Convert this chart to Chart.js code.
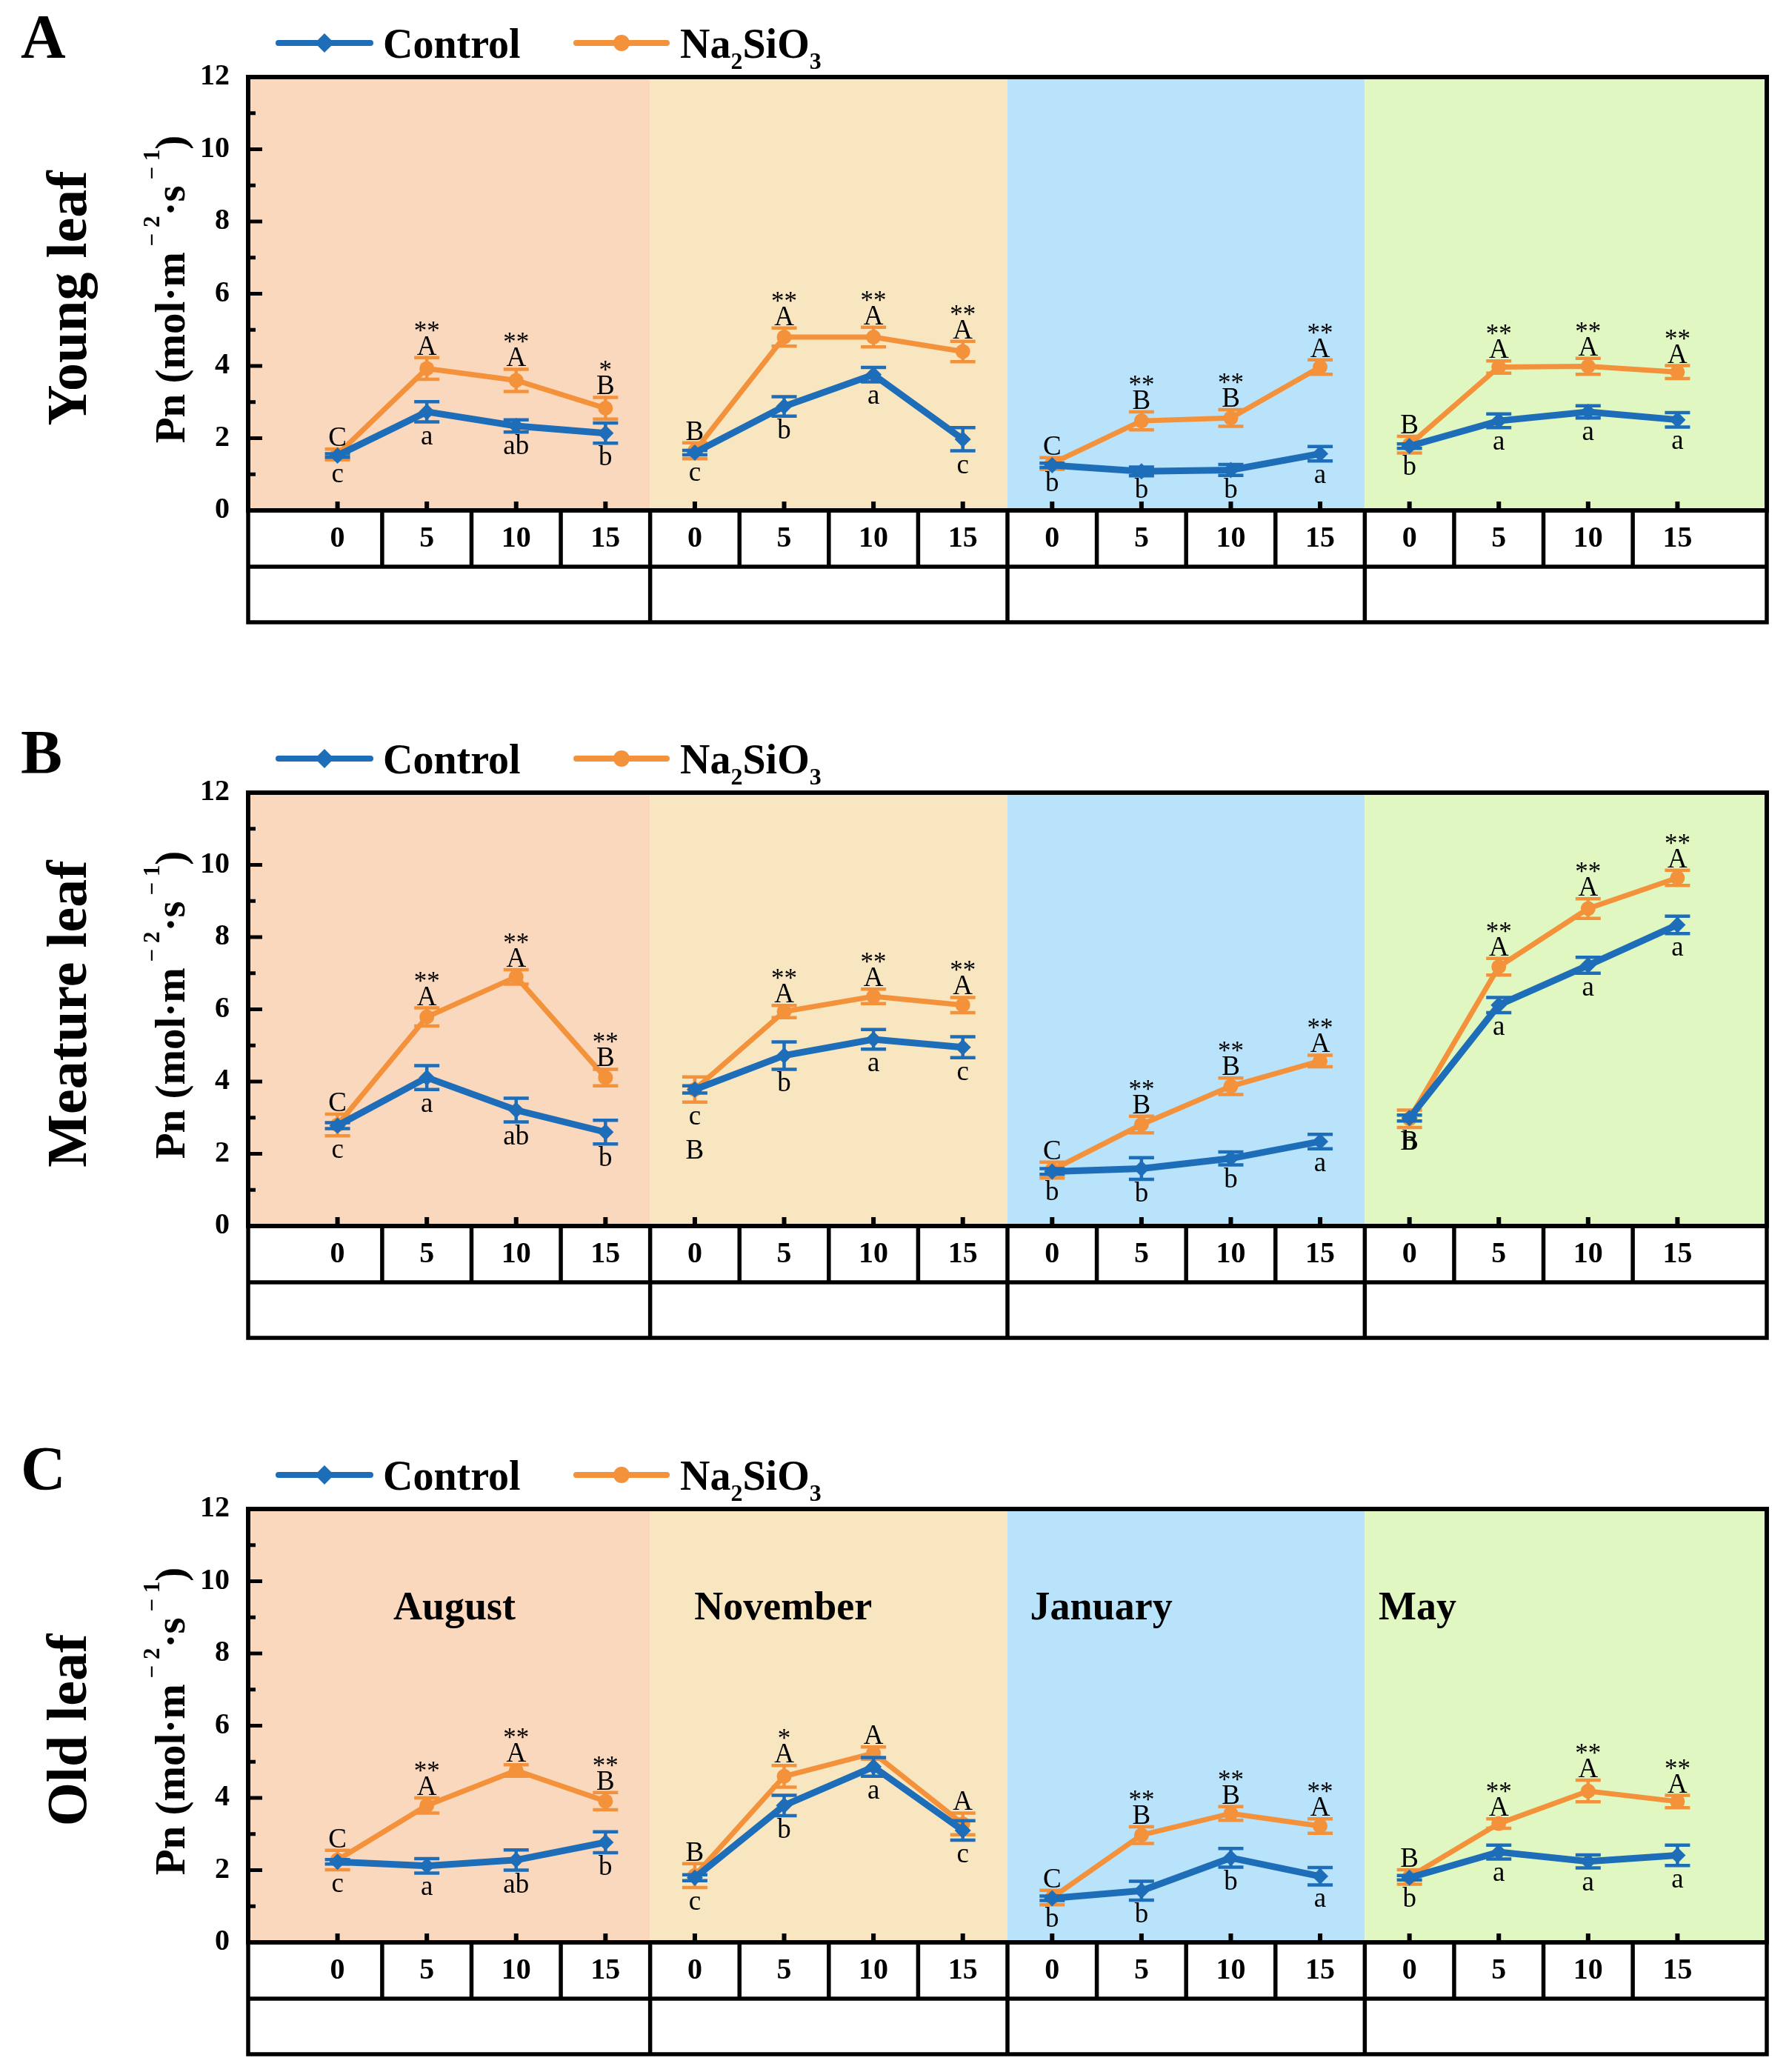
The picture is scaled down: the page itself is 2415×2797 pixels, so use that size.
<!DOCTYPE html>
<html>
<head>
<meta charset="utf-8">
<script src="https://cdn.jsdelivr.net/npm/chart.js@4.4.1/dist/chart.umd.min.js"></script>
<style>
  html, body { margin: 0; padding: 0; background: #fff; }
  body { width: 2415px; height: 2797px; position: relative; overflow: hidden; }
  canvas { position: absolute; left: 0; }
</style>
</head>
<body>
<canvas id="chartA" width="2415" height="900" style="top:0px"></canvas>
<canvas id="chartB" width="2415" height="900" style="top:966px"></canvas>
<canvas id="chartC" width="2415" height="900" style="top:1933px"></canvas>
<script>
// days after treatment, repeated in each month
var days = ['0', '5', '10', '15'];
var months = ['August', 'November', 'January', 'May'];

// A - young leaf
var ctrlYoung    = [1.52, 2.73, 2.34, 2.14, 1.60, 2.88, 3.76, 1.97, 1.25, 1.08, 1.12, 1.57, 1.78, 2.48, 2.73, 2.51];
var ctrlYoungErr = [0.05, 0.28, 0.17, 0.28, 0.06, 0.27, 0.20, 0.32, 0.06, 0.12, 0.15, 0.20, 0.06, 0.19, 0.17, 0.20];
var naYoung      = [1.55, 3.93, 3.60, 2.83, 1.65, 4.80, 4.80, 4.40, 1.30, 2.48, 2.56, 3.97, 1.82, 3.97, 3.99, 3.83];
var naYoungErr   = [0.15, 0.30, 0.31, 0.30, 0.22, 0.25, 0.27, 0.28, 0.16, 0.25, 0.23, 0.20, 0.23, 0.17, 0.22, 0.18];
var upYoung   = ['C', 'A', 'A', 'B', 'B', 'A', 'A', 'A', 'C', 'B', 'B', 'A', 'B', 'A', 'A', 'A'];
var starYoung = ['', '**', '**', '*', '', '**', '**', '**', '', '**', '**', '**', '', '**', '**', '**'];
var lowYoung  = ['c', 'a', 'ab', 'b', 'c', 'b', 'a', 'c', 'b', 'b', 'b', 'a', 'b', 'a', 'a', 'a'];

// B - meature leaf
var ctrlMeature    = [2.78, 4.11, 3.21, 2.60, 3.78, 4.72, 5.17, 4.95, 1.51, 1.59, 1.87, 2.34, 2.99, 6.12, 7.22, 8.34];
var ctrlMeatureErr = [0.08, 0.33, 0.33, 0.33, 0.10, 0.38, 0.27, 0.29, 0.08, 0.30, 0.18, 0.20, 0.08, 0.21, 0.22, 0.24];
var naMeature      = [2.80, 5.79, 6.90, 4.11, 3.78, 5.94, 6.36, 6.12, 1.55, 2.81, 3.87, 4.57, 2.97, 7.18, 8.79, 9.64];
var naMeatureErr   = [0.30, 0.25, 0.20, 0.23, 0.35, 0.17, 0.20, 0.21, 0.22, 0.23, 0.23, 0.16, 0.24, 0.23, 0.27, 0.21];
var upMeature   = ['C', 'A', 'A', 'B', 'B', 'A', 'A', 'A', 'C', 'B', 'B', 'A', 'B', 'A', 'A', 'A'];
var starMeature = ['', '**', '**', '**', '', '**', '**', '**', '', '**', '**', '**', '', '**', '**', '**'];
var lowMeature  = ['c', 'a', 'ab', 'b', 'c', 'b', 'a', 'c', 'b', 'b', 'b', 'a', 'b', 'a', 'a', 'a'];

// C - old leaf
var ctrlOld    = [2.23, 2.12, 2.28, 2.77, 1.79, 3.79, 4.86, 3.10, 1.22, 1.43, 2.34, 1.83, 1.79, 2.50, 2.24, 2.41];
var ctrlOldErr = [0.06, 0.20, 0.28, 0.29, 0.08, 0.28, 0.26, 0.27, 0.06, 0.26, 0.26, 0.24, 0.06, 0.19, 0.18, 0.28];
var naOld      = [2.28, 3.79, 4.76, 3.91, 1.85, 4.60, 5.24, 3.28, 1.24, 2.97, 3.57, 3.22, 1.81, 3.29, 4.19, 3.90];
var naOldErr   = [0.27, 0.21, 0.16, 0.24, 0.33, 0.30, 0.17, 0.30, 0.20, 0.23, 0.19, 0.20, 0.20, 0.13, 0.30, 0.17];
var upOld   = ['C', 'A', 'A', 'B', 'B', 'A', 'A', 'A', 'C', 'B', 'B', 'A', 'B', 'A', 'A', 'A'];
var starOld = ['', '**', '**', '**', '', '*', '', '', '', '**', '**', '**', '', '**', '**', '**'];
var lowOld  = ['c', 'a', 'ab', 'b', 'c', 'b', 'a', 'c', 'b', 'b', 'b', 'a', 'b', 'a', 'a', 'a'];

var BLUE = '#1d6db9';
var ORANGE = '#f4913b';
var bandColors = ['#fad8bd', '#f8e6c1', '#b8e3fa', '#e1f7c1'];
var bandEdges = [-1, 3.5, 7.5, 11.5, 16];
var monthLabelX = [1.31, 4.99, 8.55, 12.09];
var SERIF = '"Liberation Serif"';

// upper-case letters that sit under the point instead of over it (extra px below)
var upperBelow = { chartB: { 4: 46, 12: 0 } };

var panels = [
  { id: 'chartA', letter: 'A', leaf: 'Young leaf', ctrl: ctrlYoung, ctrlErr: ctrlYoungErr, na: naYoung, naErr: naYoungErr, up: upYoung, star: starYoung, low: lowYoung, monthNames: false },
  { id: 'chartB', letter: 'B', leaf: 'Meature leaf', ctrl: ctrlMeature, ctrlErr: ctrlMeatureErr, na: naMeature, naErr: naMeatureErr, up: upMeature, star: starMeature, low: lowMeature, monthNames: false },
  { id: 'chartC', letter: 'C', leaf: 'Old leaf', ctrl: ctrlOld, ctrlErr: ctrlOldErr, na: naOld, naErr: naOldErr, up: upOld, star: starOld, low: lowOld, monthNames: true }
];

function toPoints(values) {
  return values.map(function (v, i) { return { x: i, y: v }; });
}

// no line between the last day of one month and day 0 of the next
function hideMonthGap(ctx) {
  return ctx.p0DataIndex % 4 === 3 ? 'rgba(0,0,0,0)' : undefined;
}

function drawRich(ctx, parts, x, y, angle) {
  ctx.save();
  ctx.translate(x, y);
  ctx.rotate(angle);
  var total = 0;
  parts.forEach(function (p) { ctx.font = p.font; p.w = ctx.measureText(p.text).width; total += p.w; });
  var cx = -total / 2;
  ctx.textAlign = 'left';
  ctx.textBaseline = 'alphabetic';
  parts.forEach(function (p) {
    ctx.font = p.font;
    ctx.fillText(p.text, cx, p.dy || 0);
    cx += p.w;
  });
  ctx.restore();
}

var panelPlugin = {
  id: 'panelPlugin',
  beforeDraw: function (chart) {
    var ctx = chart.ctx, a = chart.chartArea, xs = chart.scales.x;
    ctx.save();
    ctx.fillStyle = '#fff';
    ctx.fillRect(0, 0, chart.width, chart.height);
    for (var k = 0; k < 4; k++) {
      var x0 = xs.getPixelForValue(bandEdges[k]);
      var x1 = xs.getPixelForValue(bandEdges[k + 1]);
      ctx.fillStyle = bandColors[k];
      ctx.fillRect(x0, a.top, x1 - x0, a.bottom - a.top);
    }
    ctx.restore();
  },
  beforeDatasetDraw: function (chart, args) {
    var ctx = chart.ctx, ys = chart.scales.y;
    var ds = chart.data.datasets[args.index];
    ctx.save();
    ctx.strokeStyle = ds.borderColor;
    ctx.lineWidth = 4.5;
    args.meta.data.forEach(function (pt, i) {
      var v = ds.data[i].y, e = ds.errors[i];
      var yt = ys.getPixelForValue(v + e), yb = ys.getPixelForValue(v - e);
      ctx.beginPath();
      ctx.moveTo(pt.x, yt); ctx.lineTo(pt.x, yb);
      ctx.moveTo(pt.x - 17, yt); ctx.lineTo(pt.x + 17, yt);
      ctx.moveTo(pt.x - 17, yb); ctx.lineTo(pt.x + 17, yb);
      ctx.stroke();
    });
    ctx.restore();
  },
  afterDatasetsDraw: function (chart) {
    var p = chart.options.plugins.panelPlugin.panel;
    var ctx = chart.ctx, xs = chart.scales.x, ys = chart.scales.y;
    var tweaks = upperBelow[p.id] || {};
    ctx.save();
    ctx.fillStyle = '#000';
    ctx.textAlign = 'center';
    ctx.textBaseline = 'alphabetic';
    for (var i = 0; i < p.ctrl.length; i++) {
      var x = xs.getPixelForValue(i);
      var top = Math.min(ys.getPixelForValue(p.na[i] + p.naErr[i]), ys.getPixelForValue(p.ctrl[i] + p.ctrlErr[i]));
      var bot = Math.max(ys.getPixelForValue(p.na[i] - p.naErr[i]), ys.getPixelForValue(p.ctrl[i] - p.ctrlErr[i]));
      var lowY = bot + 30;
      var upY = top - 4;
      if (tweaks[i] !== undefined) upY = lowY + tweaks[i];
      ctx.font = '37px ' + SERIF;
      ctx.fillText(p.low[i], x, lowY);
      ctx.fillText(p.up[i], x, upY);
      if (p.star[i]) {
        ctx.font = '35px ' + SERIF;
        ctx.fillText(p.star[i], x, upY - 21);
      }
    }
    if (p.monthNames) {
      ctx.font = 'bold 54px ' + SERIF;
      months.forEach(function (m, k) {
        ctx.fillText(m, xs.getPixelForValue(monthLabelX[k]), ys.getPixelForValue(8.95));
      });
    }
    ctx.restore();
  },
  afterDraw: function (chart) {
    var p = chart.options.plugins.panelPlugin.panel;
    var ctx = chart.ctx, a = chart.chartArea, xs = chart.scales.x, ys = chart.scales.y;
    var i, x, y;
    ctx.save();
    ctx.strokeStyle = '#000';
    ctx.lineCap = 'butt';

    // inner ticks
    ctx.lineWidth = 5;
    ctx.beginPath();
    for (i = 0; i <= 12; i++) {
      y = ys.getPixelForValue(i);
      ctx.moveTo(a.left, y);
      ctx.lineTo(a.left + (i % 2 === 0 ? 19 : 10), y);
    }
    ctx.stroke();
    ctx.lineWidth = 6;
    ctx.beginPath();
    for (i = 0; i < 16; i++) {
      x = xs.getPixelForValue(i);
      ctx.moveTo(x, a.bottom);
      ctx.lineTo(x, a.bottom - 12);
    }
    ctx.stroke();

    // frame
    ctx.lineWidth = 6;
    ctx.strokeRect(a.left, a.top, a.right - a.left, a.bottom - a.top);

    // table of days / months under the axis
    var tBottom = xs.bottom - 3;
    var split = a.bottom + 76;
    ctx.lineWidth = 5.5;
    ctx.strokeRect(a.left, a.bottom, a.right - a.left, tBottom - a.bottom);
    ctx.beginPath();
    ctx.moveTo(a.left, split); ctx.lineTo(a.right, split);
    for (i = 0; i < 15; i++) {
      x = xs.getPixelForValue(i + 0.5);
      ctx.moveTo(x, a.bottom); ctx.lineTo(x, split);
    }
    [3.5, 7.5, 11.5].forEach(function (v) {
      var bx = xs.getPixelForValue(v);
      ctx.moveTo(bx, split); ctx.lineTo(bx, tBottom);
    });
    ctx.stroke();

    // panel letter, row title, y title
    ctx.fillStyle = '#000';
    ctx.textAlign = 'left';
    ctx.textBaseline = 'alphabetic';
    ctx.font = 'bold 84px ' + SERIF;
    ctx.fillText(p.letter, 28, 78);

    var cy = (a.top + a.bottom) / 2;
    drawRich(ctx, [{ text: p.leaf, font: 'bold 76px ' + SERIF }], 116, cy + 6, -Math.PI / 2);
    var big = 'bold 57px ' + SERIF, sup = 'bold 31px ' + SERIF;
    drawRich(ctx, [
      { text: 'Pn (mol\u00b7m', font: big },
      { text: ' \u2212 2', font: sup, dy: -34 },
      { text: '\u00b7s', font: big },
      { text: ' \u2212 1', font: sup, dy: -34 },
      { text: ')', font: big }
    ], 249, cy - 6, -Math.PI / 2);

    // legend
    ctx.lineCap = 'round';
    ctx.lineWidth = 8;
    ctx.strokeStyle = BLUE;
    ctx.beginPath(); ctx.moveTo(376, 58); ctx.lineTo(500, 58); ctx.stroke();
    ctx.fillStyle = BLUE;
    ctx.beginPath();
    ctx.moveTo(438, 45); ctx.lineTo(451, 58); ctx.lineTo(438, 71); ctx.lineTo(425, 58);
    ctx.closePath(); ctx.fill();
    ctx.strokeStyle = ORANGE;
    ctx.beginPath(); ctx.moveTo(778, 58); ctx.lineTo(900, 58); ctx.stroke();
    ctx.fillStyle = ORANGE;
    ctx.beginPath(); ctx.arc(839, 58, 11, 0, Math.PI * 2); ctx.fill();

    ctx.fillStyle = '#000';
    ctx.font = 'bold 56px ' + SERIF;
    ctx.fillText('Control', 517, 78);
    var lx = 918;
    var parts = [['Na', 0], ['2', 1], ['SiO', 0], ['3', 1]];
    parts.forEach(function (q) {
      ctx.font = q[1] ? 'bold 32px ' + SERIF : 'bold 56px ' + SERIF;
      ctx.fillText(q[0], lx, q[1] ? 93 : 78);
      lx += ctx.measureText(q[0]).width;
    });
    ctx.restore();
  }
};

Chart.defaults.color = '#000';
Chart.defaults.font.family = SERIF;

panels.forEach(function (p) {
  var ctx = document.getElementById(p.id).getContext('2d');
  new Chart(ctx, {
    type: 'line',
    data: {
      datasets: [
        {
          label: 'Control',
          data: toPoints(p.ctrl),
          errors: p.ctrlErr,
          borderColor: BLUE,
          backgroundColor: BLUE,
          borderWidth: 9,
          pointStyle: 'rectRot',
          pointRadius: 11,
          pointBorderWidth: 0,
          tension: 0,
          segment: { borderColor: hideMonthGap }
        },
        {
          label: 'Na2SiO3',
          data: toPoints(p.na),
          errors: p.naErr,
          borderColor: ORANGE,
          backgroundColor: ORANGE,
          borderWidth: 7,
          pointStyle: 'circle',
          pointRadius: 10,
          pointBorderWidth: 0,
          tension: 0,
          segment: { borderColor: hideMonthGap }
        }
      ]
    },
    options: {
      responsive: false,
      devicePixelRatio: 1,
      animation: false,
      events: [],
      layout: { padding: { top: 104, right: 30, bottom: 57, left: 0 } },
      plugins: {
        legend: { display: false },
        tooltip: { enabled: false },
        panelPlugin: { panel: p }
      },
      scales: {
        x: {
          type: 'linear',
          min: -1,
          max: 16,
          grid: { display: false, drawTicks: false },
          border: { display: false },
          ticks: {
            stepSize: 1,
            autoSkip: false,
            maxRotation: 0,
            padding: 15,
            font: { family: SERIF, size: 40, weight: 'bold' },
            callback: function (value) {
              return (value >= 0 && value <= 15) ? days[value % 4] : '';
            }
          },
          afterFit: function (scale) { scale.height = 154; }
        },
        y: {
          min: 0,
          max: 12,
          grid: { display: false, drawTicks: false },
          border: { display: false },
          ticks: {
            stepSize: 2,
            padding: 25,
            font: { family: SERIF, size: 40, weight: 'bold' }
          },
          afterFit: function (scale) { scale.width = 335; }
        }
      }
    },
    plugins: [panelPlugin]
  });
});
</script>
</body>
</html>
